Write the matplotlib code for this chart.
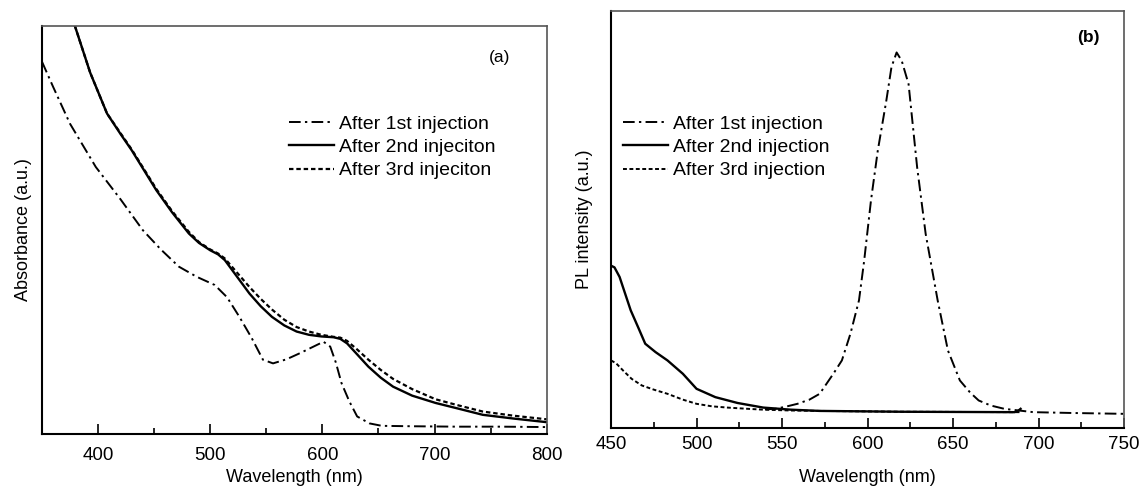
import numpy as np
import matplotlib
matplotlib.use("Agg")
import matplotlib.pyplot as plt
from matplotlib.ticker import MultipleLocator, NullLocator

plt.rcParams['font.family'] = ['Liberation Sans', 'DejaVu Sans']

# ---- panel (a): absorbance (axes fraction units)
abs_wl_1 = [350, 360, 375, 398, 420, 440, 456, 472, 488, 504, 515, 526, 537, 547, 556,
            568, 580, 592, 601, 607, 612, 617, 624, 631, 642, 653, 680, 720, 760, 800]
abs_1 = [0.912, 0.850, 0.760, 0.654, 0.575, 0.499, 0.452, 0.410, 0.385, 0.365, 0.335, 0.287,
         0.235, 0.182, 0.173, 0.183, 0.198, 0.214, 0.226, 0.214, 0.175, 0.125, 0.080, 0.043,
         0.026, 0.020, 0.019, 0.018, 0.018, 0.017]

# 2nd and 3rd injection share the same wavelength grid
abs_wl_23 = [379.3, 393, 408, 420, 430, 452, 466, 481, 490, 500, 507, 513, 524, 535, 545, 555,
             566, 577, 588, 599, 610, 616, 622, 631, 641, 652, 663, 680, 701, 720, 743, 770, 800]
abs_2 = [1.0, 0.885, 0.785, 0.735, 0.695, 0.597, 0.543, 0.491, 0.468, 0.450, 0.440, 0.426,
         0.385, 0.344, 0.313, 0.287, 0.266, 0.251, 0.243, 0.239, 0.237, 0.233, 0.222, 0.195,
         0.165, 0.138, 0.116, 0.094, 0.076, 0.063, 0.047, 0.038, 0.029]
abs_3 = [1.0, 0.885, 0.785, 0.737, 0.697, 0.600, 0.546, 0.495, 0.470, 0.452, 0.442, 0.430,
         0.395, 0.360, 0.331, 0.305, 0.280, 0.262, 0.251, 0.243, 0.238, 0.236, 0.228, 0.207,
         0.182, 0.157, 0.135, 0.110, 0.085, 0.071, 0.055, 0.045, 0.036]

# ---- panel (b): PL intensity
pl_wl_1 = [540, 546, 552, 559, 566, 572, 580, 585, 590, 595, 598, 602, 606, 611, 614, 617,
           620, 624, 629, 634, 641, 647, 654, 660, 665, 672, 680, 697, 720, 750]
pl_1 = [0.045, 0.046, 0.051, 0.058, 0.068, 0.082, 0.130, 0.162, 0.226, 0.306, 0.400, 0.545,
        0.665, 0.785, 0.865, 0.900, 0.880, 0.824, 0.625, 0.465, 0.306, 0.186, 0.114, 0.085,
        0.066, 0.054, 0.046, 0.038, 0.036, 0.034]

pl_wl_2 = [450, 452, 455, 458, 461.5, 466, 470, 476, 483, 492, 500, 511, 524, 539, 555, 572,
           620, 686, 688, 689.5]
pl_2 = [0.389, 0.385, 0.362, 0.325, 0.282, 0.240, 0.202, 0.182, 0.162, 0.130, 0.094, 0.074,
        0.060, 0.049, 0.044, 0.041, 0.039, 0.038, 0.041, 0.046]

pl_wl_3 = [450, 453, 457, 462, 468, 475, 483, 492, 500, 509, 518, 530, 539, 555, 572, 620, 690]
pl_3 = [0.162, 0.155, 0.138, 0.118, 0.102, 0.092, 0.082, 0.068, 0.058, 0.052, 0.049, 0.046,
        0.044, 0.042, 0.041, 0.039, 0.038]

labels_a = ['After 1st injection', 'After 2nd injeciton', 'After 3rd injeciton']
labels_b = ['After 1st injection', 'After 2nd injection', 'After 3rd injection']

dashdot = (0, (6, 2.2, 1.2, 2.2))
dotted = (0, (2.0, 1.3))

fig = plt.figure(figsize=(11.4, 4.87), dpi=100)
ax_a = fig.add_axes([0.0368, 0.1088, 0.4428, 0.8384])
ax_b = fig.add_axes([0.5360, 0.1211, 0.4500, 0.8569])

ax_a.plot(abs_wl_1, abs_1, color='black', lw=1.4, linestyle=dashdot, label=labels_a[0])
ax_a.plot(abs_wl_23, abs_2, color='black', lw=1.7, linestyle='-', label=labels_a[1])
ax_a.plot(abs_wl_23, abs_3, color='black', lw=1.6, linestyle=dotted, label=labels_a[2])
ax_a.set_xlim(350, 800)
ax_a.set_ylim(0, 1)
ax_a.xaxis.set_major_locator(MultipleLocator(100))
ax_a.xaxis.set_minor_locator(MultipleLocator(50))
ax_a.set_xticks([400, 500, 600, 700, 800])
ax_a.set_xlabel('Wavelength (nm)', fontsize=13, labelpad=4)
ax_a.set_ylabel('Absorbance (a.u.)', fontsize=13, labelpad=7)
ax_a.text(0.907, 0.923, '(a)', transform=ax_a.transAxes, fontsize=12.5, ha='center', va='center')
ax_a.legend(loc='upper left', bbox_to_anchor=(0.2535, 0.764), bbox_transform=fig.transFigure,
            frameon=False, fontsize=14, handlelength=2.3, handletextpad=0.25,
            labelspacing=0.3, borderpad=0, borderaxespad=0)

ax_b.plot(pl_wl_1, pl_1, color='black', lw=1.4, linestyle=dashdot, label=labels_b[0])
ax_b.plot(pl_wl_2, pl_2, color='black', lw=1.7, linestyle='-', label=labels_b[1])
ax_b.plot(pl_wl_3, pl_3, color='black', lw=1.4, linestyle=dotted, label=labels_b[2])
ax_b.set_xlim(450, 750)
ax_b.set_ylim(0, 1)
ax_b.xaxis.set_major_locator(MultipleLocator(50))
ax_b.xaxis.set_minor_locator(MultipleLocator(25))
ax_b.set_xlabel('Wavelength (nm)', fontsize=13, labelpad=11)
ax_b.set_ylabel('PL intensity (a.u.)', fontsize=13, labelpad=13)
ax_b.text(0.93, 0.935, '(b)', transform=ax_b.transAxes, fontsize=12.5, fontweight='bold',
          ha='center', va='center')
ax_b.legend(loc='upper left', bbox_to_anchor=(0.5465, 0.764), bbox_transform=fig.transFigure,
            frameon=False, fontsize=14, handlelength=2.3, handletextpad=0.25,
            labelspacing=0.3, borderpad=0, borderaxespad=0)

for ax, tick_pad in ((ax_a, 9), (ax_b, 6)):
    ax.yaxis.set_major_locator(NullLocator())
    ax.tick_params(axis='x', which='major', direction='in', length=7, width=1.2,
                   labelsize=13.5, pad=tick_pad, top=False)
    ax.tick_params(axis='x', which='minor', direction='in', length=4, width=1.2, top=False)
    for side in ('left', 'bottom'):
        ax.spines[side].set_linewidth(1.5)
        ax.spines[side].set_color('black')
    for side in ('top', 'right'):
        ax.spines[side].set_linewidth(1.2)
        ax.spines[side].set_color('#555555')

fig.savefig('out.png', dpi=100)
